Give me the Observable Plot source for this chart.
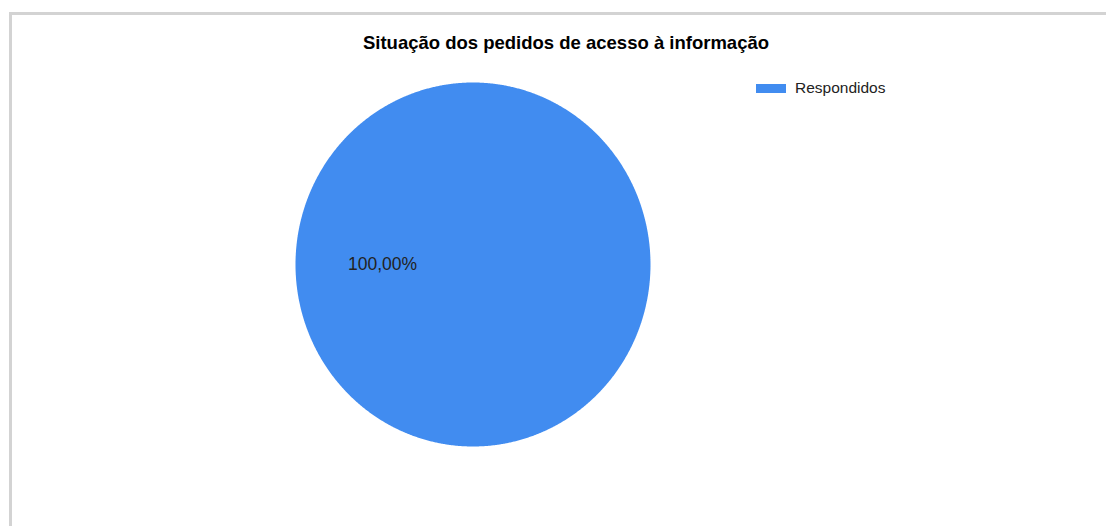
<!DOCTYPE html>
<html>
<head>
<meta charset="utf-8">
<script src="https://cdn.jsdelivr.net/npm/d3@7"></script>
<script src="https://cdn.jsdelivr.net/npm/@observablehq/plot@0.6"></script>
<style>
  html, body { margin: 0; padding: 0; background: #fff; }
  body { width: 1106px; height: 526px; position: relative; overflow: hidden; font-family: Arial, "Liberation Sans", sans-serif; }
  #frame { position: absolute; left: 9px; top: 12px; width: 1200px; height: 600px; border-left: 3px solid #d3d3d3; border-top: 3px solid #d3d3d3; }
  #chart { position: absolute; left: 0; top: 0; }
  #title { position: absolute; left: 0; width: 1132px; top: 32px; text-align: center; font-weight: bold; font-size: 18.5px; color: #000; }
  #legend { position: absolute; left: 756px; top: 79px; display: flex; align-items: center; font-size: 15.5px; color: #222; }
  #legend .sw { width: 30px; height: 9px; margin-right: 9px; }
</style>
</head>
<body>
<div id="frame"></div>
<div id="chart"></div>
<div id="title"></div>
<div id="legend"></div>
<script>
const titleText = "Situação dos pedidos de acesso à informação";
const categories = ["Respondidos"];
const values = [100];
const colors = ["#418cf0"];

const slices = categories.map((c, i) => ({category: c, value: values[i]}));
const total = d3.sum(values);
const arcs = d3.pie().sort(null).value(d => d.value)(slices);

// polygon outline points of each slice (geometry in unit-circle coordinates)
const pts = [];
arcs.forEach(a => {
  const full = a.endAngle - a.startAngle >= 2 * Math.PI - 1e-9;
  const n = Math.max(2, Math.ceil((a.endAngle - a.startAngle) / 0.005));
  if (!full) pts.push({category: a.data.category, x: 0, y: 0});
  for (let k = 0; k <= n; k++) {
    const t = a.startAngle + (a.endAngle - a.startAngle) * k / n;
    pts.push({category: a.data.category, x: Math.sin(t), y: Math.cos(t)});
  }
});

const labels = arcs.map(a => {
  const full = a.endAngle - a.startAngle >= 2 * Math.PI - 1e-9;
  const mid = full ? -Math.PI / 2 : (a.startAngle + a.endAngle) / 2;
  const rr = full ? 0.51 : 0.6;
  return {
    category: a.data.category,
    x: rr * Math.sin(mid),
    y: rr * Math.cos(mid),
    text: (a.data.value / total * 100).toFixed(2).replace(".", ",") + "%"
  };
});

const plot = Plot.plot({
  width: 1106,
  height: 526,
  marginLeft: 295,
  marginRight: 1106 - 650,
  marginTop: 82,
  marginBottom: 526 - 446,
  x: {domain: [-1, 1], axis: null},
  y: {domain: [-1, 1], axis: null},
  color: {domain: categories, range: colors},
  style: {background: "transparent", fontFamily: "Arial, 'Liberation Sans', sans-serif"},
  marks: [
    Plot.line(pts, {x: "x", y: "y", z: "category", fill: "category", stroke: "none", curve: "linear"}),
    Plot.text(labels, {x: "x", y: "y", text: "text", fill: "#222", fontSize: 17.5, textAnchor: "middle"})
  ]
});
document.getElementById("chart").appendChild(plot);

document.getElementById("title").textContent = titleText;
const legend = document.getElementById("legend");
categories.forEach((c, i) => {
  const sw = document.createElement("div");
  sw.className = "sw";
  sw.style.background = colors[i];
  const tx = document.createElement("span");
  tx.textContent = c;
  legend.appendChild(sw);
  legend.appendChild(tx);
});
</script>
</body>
</html>
